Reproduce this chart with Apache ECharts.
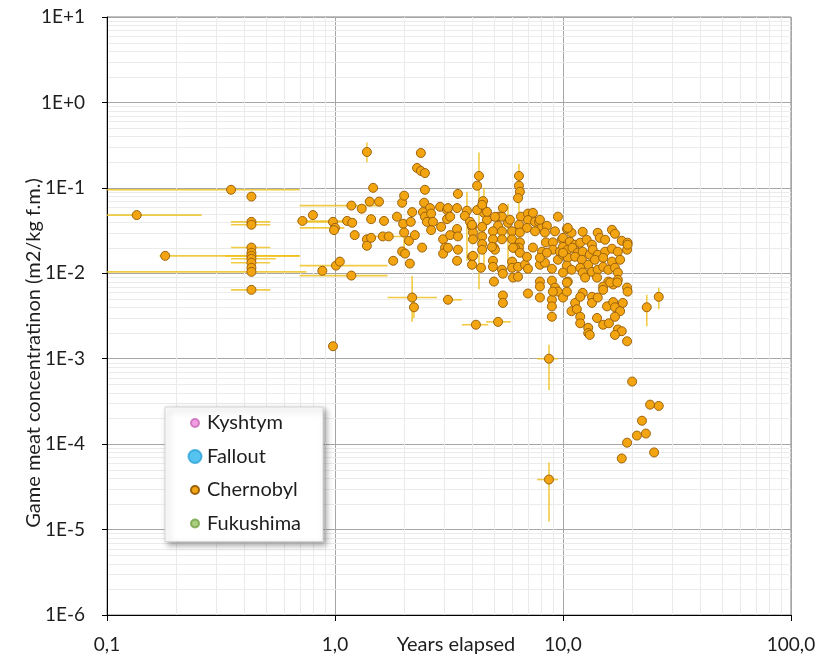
<!DOCTYPE html>
<html>
<head>
<meta charset="utf-8">
<script src="https://cdn.jsdelivr.net/npm/echarts@6/dist/echarts.min.js"></script>
<style>
html,body{margin:0;padding:0;background:#fff;}
#chart{width:826px;height:659px;}
</style>
</head>
<body>
<div id="chart"></div>
<script>
// ---- Data ----
const seriesNames = ['Kyshtym', 'Fallout', 'Chernobyl', 'Fukushima'];
const xTickLabels = ['0,1', '1,0', '10,0', '100,0'];
const yTickLabels = ['1E-6', '1E-5', '1E-4', '1E-3', '1E-2', '1E-1', '1E+0', '1E+1'];

// Chernobyl: years elapsed
const chernobylYears = [
  0.135, 0.18, 0.35, 0.43, 0.43, 0.43, 0.43, 0.43, 0.43, 0.43, 0.43, 0.43, 0.43, 0.43,
  0.72, 0.80, 0.88, 0.98, 1.00, 0.99, 1.01, 1.05, 0.98, 1.13, 1.18, 1.19, 1.18, 1.22, 1.31, 1.38,
  1.38, 1.38, 1.44, 1.42, 1.47, 1.56, 1.44, 1.64, 1.62, 1.72, 1.80, 1.87, 1.97, 2.01, 2.18, 1.99,
  2.15, 2.01, 2.11, 2.24, 1.97, 2.03, 2.13, 2.18, 2.22, 2.38, 2.29, 2.38, 2.48, 2.48, 2.46, 2.61,
  2.43, 2.48, 2.64, 2.53, 2.69, 2.64, 2.41, 2.89, 3.10, 2.92, 3.10, 2.98, 3.04, 2.98, 3.13,
  4.28, 4.20, 6.41, 6.41, 6.47, 6.35, 3.46, 4.46, 4.42, 4.50, 4.64, 4.20, 3.79, 3.43, 3.13, 3.20,
  3.71, 3.91, 3.99, 3.43, 3.20, 3.46, 4.03, 4.42, 4.42, 4.03, 4.42, 5.45, 5.19, 5.40, 5.74, 5.19,
  5.40, 4.93, 4.93, 5.40, 4.98, 5.98, 5.98, 6.54, 7.02, 7.38, 6.41, 7.02, 7.54, 6.95, 7.85, 8.09,
  8.50, 8.33, 7.54, 6.47, 6.47, 9.50, 9.22, 8.42, 9.03, 9.90, 6.41, 7.38,
  3.43, 3.99, 3.99, 4.37, 4.93, 4.93, 5.40, 5.45, 5.98, 5.98, 6.35, 6.81, 7.02, 7.92, 8.33, 8.94,
  9.50, 6.04, 6.35, 4.98, 5.45, 5.45, 7.02, 7.92, 7.92, 8.94, 8.94, 8.94, 8.94, 9.22, 9.50, 10.0,
  3.13, 3.46, 4.42, 5.03, 6.16, 8.09, 9.03, 9.69, 4.15, 5.19,
  10.4, 10.9, 12.2, 14.2, 16.4, 16.9, 18.1, 19.2, 10.0, 10.7, 11.3, 11.9, 12.7, 13.4, 14.5, 15.3,
  10.0, 10.5, 11.0, 11.6, 12.2, 13.1, 13.5, 14.2, 15.3, 16.4, 17.4, 19.1, 19.2, 10.0, 10.5, 11.3,
  12.1, 12.9, 13.8, 15.0, 16.4, 17.8, 10.4, 10.9, 11.9, 12.2, 13.4, 14.2, 15.0, 15.8, 16.9, 17.4,
  10.0, 10.5, 12.5, 14.1, 15.8, 16.6, 17.4, 19.1, 15.0,
  10.4, 12.2, 13.4, 13.4, 14.2, 15.0, 16.1, 17.3, 19.2, 11.3, 10.9, 11.5, 11.9, 11.9, 14.1, 15.6,
  16.6, 16.9, 18.3, 17.8, 16.9, 12.9, 12.9, 15.0, 15.9, 17.4, 18.1, 16.9, 19.1, 23.3, 26.3,
  8.68, 8.68, 20.1, 24.1, 26.3, 22.2, 21.1, 23.1, 19.1, 18.1, 25.1,
  10.5, 7.92, 5.85, 5.03, 4.64, 4.42, 3.99, 4.88, 6.04, 6.47, 6.95, 7.92, 8.50, 10.0, 4.03, 7.92,
  9.03, 10.4, 11.9, 13.1
];
// Chernobyl: game meat concentration (m2/kg f.m.)
const chernobylConc = [
  0.048, 0.016, 0.095, 0.079, 0.040, 0.037, 0.020, 0.0174, 0.016, 0.0148, 0.0133, 0.0116, 0.0104, 0.0064,
  0.041, 0.048, 0.0107, 0.040, 0.034, 0.032, 0.0123, 0.0137, 0.0014, 0.041, 0.062, 0.039, 0.0094, 0.028, 0.057, 0.263,
  0.025, 0.021, 0.026, 0.069, 0.100, 0.069, 0.043, 0.041, 0.027, 0.027, 0.014, 0.046, 0.067, 0.081, 0.052, 0.038,
  0.040, 0.030, 0.024, 0.028, 0.018, 0.017, 0.013, 0.0052, 0.0040, 0.256, 0.171, 0.158, 0.149, 0.095, 0.067, 0.058,
  0.052, 0.046, 0.050, 0.040, 0.040, 0.032, 0.020, 0.060, 0.055, 0.035, 0.043, 0.025, 0.020, 0.017, 0.0049,
  0.138, 0.106, 0.138, 0.106, 0.090, 0.076, 0.085, 0.070, 0.060, 0.051, 0.042, 0.055, 0.054, 0.058, 0.058, 0.046,
  0.047, 0.040, 0.035, 0.033, 0.028, 0.027, 0.030, 0.035, 0.027, 0.025, 0.022, 0.058, 0.046, 0.046, 0.039, 0.036,
  0.031, 0.031, 0.025, 0.025, 0.020, 0.031, 0.025, 0.046, 0.050, 0.051, 0.037, 0.042, 0.040, 0.034, 0.040, 0.035,
  0.036, 0.030, 0.031, 0.030, 0.023, 0.046, 0.031, 0.023, 0.023, 0.025, 0.020, 0.020,
  0.014, 0.0156, 0.0126, 0.0116, 0.014, 0.0119, 0.011, 0.0099, 0.0137, 0.0116, 0.0119, 0.0126, 0.0113, 0.0126, 0.0133, 0.0113,
  0.0144, 0.0089, 0.0091, 0.0080, 0.0055, 0.0045, 0.0058, 0.0080, 0.0052, 0.0082, 0.0049, 0.0041, 0.0031, 0.0068, 0.0061, 0.0052,
  0.0199, 0.0189, 0.0189, 0.0189, 0.0199, 0.0179, 0.0189, 0.0179, 0.0025, 0.0027,
  0.0331, 0.0298, 0.0306, 0.0298, 0.0323, 0.0290, 0.0240, 0.0228, 0.0260, 0.0234, 0.0216, 0.0228, 0.0247, 0.0216, 0.0260, 0.0247,
  0.0204, 0.0189, 0.0199, 0.0174, 0.0179, 0.0165, 0.0189, 0.0165, 0.0179, 0.0194, 0.0179, 0.0189, 0.0216, 0.0165, 0.0152, 0.0156,
  0.0144, 0.0126, 0.0144, 0.0152, 0.0137, 0.0144, 0.0123, 0.0110, 0.0116, 0.0102, 0.0104, 0.0110, 0.0119, 0.0110, 0.0116, 0.0102,
  0.0102, 0.0080, 0.0089, 0.0089, 0.0080, 0.0074, 0.0084, 0.0068, 0.0070,
  0.0061, 0.0059, 0.0053, 0.0045, 0.0052, 0.0064, 0.0078, 0.0078, 0.0061, 0.0045, 0.0036, 0.0038, 0.0031, 0.0026, 0.0030, 0.0041,
  0.0046, 0.0040, 0.0045, 0.0036, 0.0031, 0.0023, 0.0020, 0.0025, 0.0026, 0.0022, 0.0021, 0.0019, 0.0016, 0.0040, 0.0053,
  0.0010, 0.0000385, 0.00054, 0.00029, 0.00028, 0.000188, 0.000126, 0.000133, 0.000104, 0.000068, 0.000080,
  0.0340, 0.0423, 0.0423, 0.0458, 0.0524, 0.0633, 0.0369, 0.0204, 0.0199, 0.0174, 0.0156, 0.0152, 0.0174, 0.0174, 0.0160, 0.0070,
  0.0061, 0.0078, 0.0053, 0.0019
];

// Horizontal error bars (years): point and low/high years
const hErrYears = [0.135, 0.18, 0.35, 0.43, 0.43, 0.43, 0.43, 0.43, 0.43, 0.43, 0.43, 0.72, 0.98, 1.00, 1.18, 1.01, 1.18, 1.62, 2.18, 3.13, 4.15, 5.19, 8.68, 8.68];
const hErrConc  = [0.048, 0.016, 0.095, 0.040, 0.037, 0.020, 0.016, 0.0148, 0.0133, 0.0104, 0.0064, 0.041, 0.040, 0.034, 0.062, 0.0123, 0.0094, 0.027, 0.0052, 0.0049, 0.0025, 0.0027, 0.0010, 0.0000385];
const hErrLow   = [0.10, 0.17, 0.10, 0.35, 0.35, 0.35, 0.33, 0.35, 0.35, 0.10, 0.35, 0.68, 0.70, 0.70, 0.70, 0.70, 0.70, 1.40, 1.70, 3.00, 3.60, 4.60, 7.70, 7.70];
const hErrHigh  = [0.26, 0.70, 0.70, 0.52, 0.52, 0.52, 0.70, 0.55, 0.52, 0.75, 0.52, 1.20, 1.20, 1.10, 1.60, 1.70, 1.70, 2.00, 2.80, 3.60, 4.70, 5.90, 9.50, 9.50];

// Vertical error bars (concentration): point and low/high concentration
const vErrYears = [1.38, 2.18, 2.22, 4.28, 6.41, 3.79, 4.50, 5.74, 2.01, 8.68, 8.68, 23.3, 26.3];
const vErrConc  = [0.263, 0.0052, 0.0040, 0.138, 0.138, 0.054, 0.051, 0.039, 0.030, 0.0010, 0.0000385, 0.0040, 0.0053];
const vErrLow   = [0.20, 0.0027, 0.0030, 0.0065, 0.020, 0.014, 0.012, 0.012, 0.019, 0.00043, 0.0000124, 0.0024, 0.0038];
const vErrHigh  = [0.34, 0.0093, 0.0050, 0.26, 0.19, 0.090, 0.10, 0.065, 0.040, 0.00146, 0.000061, 0.0056, 0.0068];

// ---- Styling / build ----
const FONT = 'Lato';
const TXT = '#1e1e1e';

const chernobylData = chernobylYears.map((x, i) => [x, chernobylConc[i]]);
const hErrData = hErrYears.map((x, i) => [x, hErrConc[i], hErrLow[i], hErrHigh[i]]);
const vErrData = vErrYears.map((x, i) => [x, vErrConc[i], vErrLow[i], vErrHigh[i]]);

// minor grid positions (2..9 x 10^k) – styling only
const xMinor = [], yMinor = [];
for (let e = -1; e < 2; e++) for (let m = 2; m <= 9; m++) xMinor.push([m * Math.pow(10, e), 1]);
for (let e = -6; e < 1; e++) for (let m = 2; m <= 9; m++) yMinor.push([1, m * Math.pow(10, e)]);

function snap(v) { return Math.round(v) + 0.5; }

const smallIcon = 'path://M0,0M14,14M3,7a4,4 0 1,0 8,0a4,4 0 1,0 -8,0Z';
const bigIcon = 'path://M0,0M14,14M0.5,7a6.5,6.5 0 1,0 13,0a6.5,6.5 0 1,0 -13,0Z';

const chart = echarts.init(document.getElementById('chart'), null, {renderer: 'canvas'});
chart.setOption({
  animation: false,
  backgroundColor: '#fff',
  grid: {left: 107, right: 35, top: 17, bottom: 44, show: true, borderColor: '#808080', borderWidth: 1, backgroundColor: 'transparent'},
  xAxis: {
    type: 'log', logBase: 10, min: 0.1, max: 100,
    axisLine: {show: true, onZero: false, lineStyle: {color: '#000', width: 1}},
    axisTick: {show: true, length: 6, lineStyle: {color: '#000'}},
    splitLine: {show: true, lineStyle: {color: '#a6a6a6', width: 1}},
    axisLabel: {
      fontFamily: FONT, fontSize: 19, color: TXT, margin: 20,
      formatter: v => xTickLabels[Math.round(Math.log10(v)) + 1]
    }
  },
  yAxis: {
    type: 'log', logBase: 10, min: 1e-6, max: 10,
    axisLine: {show: true, onZero: false, lineStyle: {color: '#000', width: 1}},
    axisTick: {show: true, length: 5, lineStyle: {color: '#000'}},
    splitLine: {show: true, lineStyle: {color: '#a6a6a6', width: 1}},
    axisLabel: {
      fontFamily: FONT, fontSize: 19, color: TXT, margin: 22,
      formatter: v => yTickLabels[Math.round(Math.log10(v)) + 6]
    }
  },
  legend: {
    data: [
      {name: 'Kyshtym', icon: smallIcon},
      {name: 'Fallout', icon: bigIcon},
      {name: 'Chernobyl', icon: smallIcon},
      {name: 'Fukushima', icon: smallIcon}
    ],
    orient: 'vertical', left: 165, top: 407,
    itemWidth: 14, itemHeight: 14, itemGap: 11.5,
    padding: [5, 22, 7, 22],
    backgroundColor: '#fff', borderColor: '#d4d4d4', borderWidth: 1,
    shadowBlur: 6, shadowColor: 'rgba(0,0,0,0.35)', shadowOffsetX: 3, shadowOffsetY: 3,
    textStyle: {fontFamily: FONT, fontSize: 20, color: TXT, lineHeight: 22},
    selectedMode: false
  },
  graphic: [
    {type: 'text', x: 456, y: 645, silent: true,
     style: {text: 'Years elapsed', fill: TXT, font: '20px Lato', textAlign: 'center', textVerticalAlign: 'middle'}},
    {type: 'text', x: 34, y: 353, rotation: Math.PI / 2, silent: true,
     style: {text: 'Game meat concentratinon (m2/kg f.m.)', fill: TXT, font: '20px Lato', textAlign: 'center', textVerticalAlign: 'middle'}}
  ],
  series: [
    {
      type: 'custom', name: 'xMinorGrid', silent: true, z: 0, data: xMinor,
      renderItem: (params, api) => {
        const cs = params.coordSys; const p = api.coord([api.value(0), api.value(1)]);
        const x = snap(p[0]);
        return {type: 'line', shape: {x1: x, y1: cs.y, x2: x, y2: cs.y + cs.height}, style: {stroke: '#ebebeb', lineWidth: 1}};
      }
    },
    {
      type: 'custom', name: 'yMinorGrid', silent: true, z: 0, data: yMinor,
      renderItem: (params, api) => {
        const cs = params.coordSys; const p = api.coord([api.value(0), api.value(1)]);
        const y = snap(p[1]);
        return {type: 'line', shape: {x1: cs.x, y1: y, x2: cs.x + cs.width, y2: y}, style: {stroke: '#ebebeb', lineWidth: 1}};
      }
    },
    {
      type: 'custom', name: 'hErr', silent: true, z: 3, clip: true, data: hErrData,
      encode: {x: [0, 2, 3], y: 1},
      renderItem: (params, api) => {
        const a = api.coord([api.value(2), api.value(1)]);
        const b = api.coord([api.value(3), api.value(1)]);
        return {type: 'line', shape: {x1: a[0], y1: a[1], x2: b[0], y2: b[1]}, style: {stroke: 'rgba(238,190,20,0.8)', lineWidth: 1.6}};
      }
    },
    {
      type: 'custom', name: 'vErr', silent: true, z: 3, clip: true, data: vErrData,
      encode: {x: 0, y: [1, 2, 3]},
      renderItem: (params, api) => {
        const a = api.coord([api.value(0), api.value(2)]);
        const b = api.coord([api.value(0), api.value(3)]);
        return {type: 'line', shape: {x1: a[0], y1: a[1], x2: b[0], y2: b[1]}, style: {stroke: 'rgba(238,190,20,0.8)', lineWidth: 1.6}};
      }
    },
    {name: 'Kyshtym', type: 'scatter', data: [], itemStyle: {color: '#ef86dc', borderColor: '#c768b6', borderWidth: 1}},
    {name: 'Fallout', type: 'scatter', data: [], itemStyle: {color: '#2cb4ee', borderColor: '#2aa3d8', borderWidth: 1}},
    {
      name: 'Chernobyl', type: 'scatter', data: chernobylData, z: 4,
      symbol: 'circle', symbolSize: 9,
      itemStyle: {color: '#f3a511', borderColor: '#9c620c', borderWidth: 1, opacity: 1}
    },
    {name: 'Fukushima', type: 'scatter', data: [], itemStyle: {color: '#92c25e', borderColor: '#73a046', borderWidth: 1}}
  ]
});
</script>
</body>
</html>
